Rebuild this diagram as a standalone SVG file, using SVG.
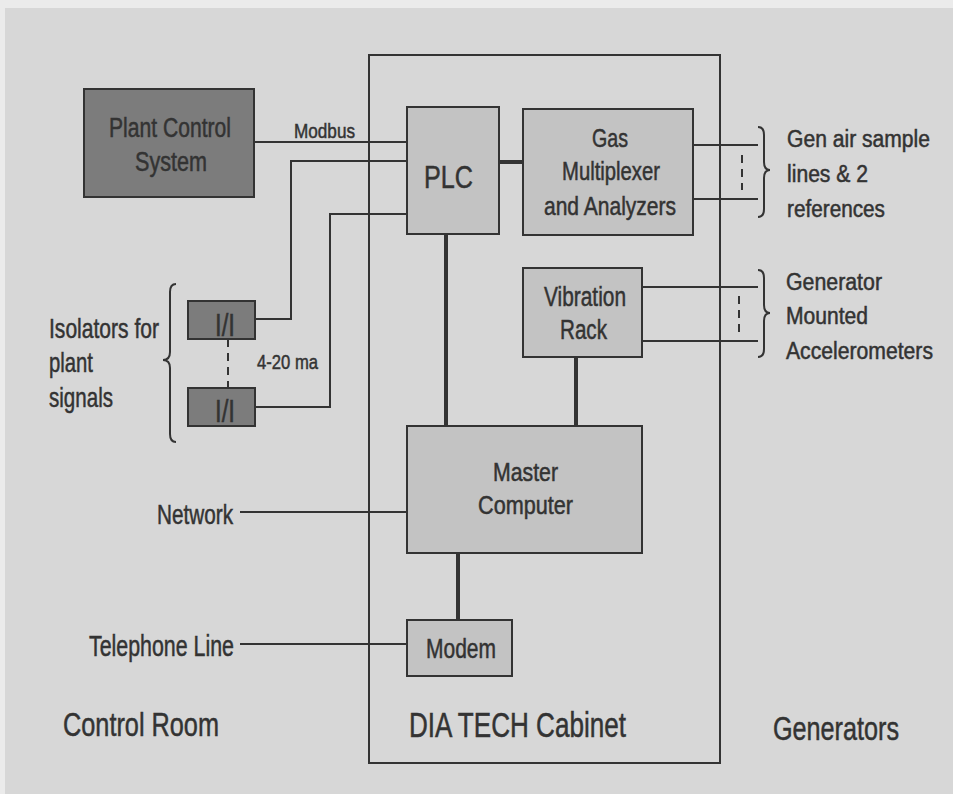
<svg xmlns="http://www.w3.org/2000/svg" width="953" height="794" viewBox="0 0 953 794">
<style>
text{font-family:"Liberation Sans",Arial,sans-serif;fill:#333;stroke:#333;stroke-width:0.5;}
.dark{fill:#7c7c7c;stroke:#333;stroke-width:2;}
.light{fill:#c3c3c3;stroke:#333;stroke-width:2;}
.ln{fill:none;stroke:#333;stroke-width:2;}
.thick{fill:none;stroke:#333;stroke-width:4;}
.dash{fill:none;stroke:#333;stroke-width:2;stroke-dasharray:8 6;}
.brace{fill:none;stroke:#333;stroke-width:2;}
</style>
<rect x="0" y="0" width="953" height="794" fill="#ebebeb"/>
<rect x="5" y="8" width="948" height="786" fill="#d7d7d7"/>
<g id="cabinet">
<rect x="369" y="55" width="351" height="708" fill="none" stroke="#333" stroke-width="2"/>
</g>
<g id="connectors">
<path class="ln" d="M254,142 H407"/>
<path class="ln" d="M255,319 H291 V161 H407"/>
<path class="ln" d="M255,407 H330 V214 H407"/>
<path class="dash" d="M228,339 V388"/>
<path class="thick" d="M499,162 H523"/>
<path class="thick" d="M446,234 V425"/>
<path class="thick" d="M576,357 V425"/>
<path class="thick" d="M458,553 V620"/>
<path class="ln" d="M240,512 H407"/>
<path class="ln" d="M240,644 H407"/>
<path class="ln" d="M693,145 H758"/>
<path class="ln" d="M693,199 H758"/>
<path class="dash" d="M742,155 V190"/>
<path class="ln" d="M642,287 H758"/>
<path class="ln" d="M642,341 H758"/>
<path class="dash" d="M739,296 V333"/>
<path class="brace" d="M758,127 Q764,127 764,135 L764,162 Q764,170 770,170 Q764,170 764,178 L764,209 Q764,217 758,217"/>
<path class="brace" d="M758,270 Q764,270 764,278 L764,305 Q764,313 770,313 Q764,313 764,321 L764,349 Q764,357 758,357"/>
<path class="brace" d="M176,284 Q170,284 170,292 L170,352 Q170,360 163,360 Q170,360 170,368 L170,434 Q170,442 176,442"/>
</g>
<g id="plant-control">
<rect class="dark" x="84" y="89" width="170" height="108"/>
<text x="109" y="137" font-size="27" textLength="122" lengthAdjust="spacingAndGlyphs">Plant Control</text>
<text x="135" y="171" font-size="27" textLength="72" lengthAdjust="spacingAndGlyphs">System</text>
</g>
<g id="modbus-label">
<text x="294" y="138" font-size="21" textLength="61" lengthAdjust="spacingAndGlyphs">Modbus</text>
</g>
<g id="plc">
<rect class="light" x="407" y="107" width="92" height="127"/>
<text x="424" y="188" font-size="32" textLength="49" lengthAdjust="spacingAndGlyphs">PLC</text>
</g>
<g id="gas">
<rect class="light" x="523" y="109" width="170" height="126"/>
<text x="592" y="147" font-size="25" textLength="36" lengthAdjust="spacingAndGlyphs">Gas</text>
<text x="562" y="180" font-size="25" textLength="98" lengthAdjust="spacingAndGlyphs">Multiplexer</text>
<text x="544" y="215" font-size="25" textLength="132" lengthAdjust="spacingAndGlyphs">and Analyzers</text>
</g>
<g id="gen-air">
<text x="787" y="147" font-size="23" textLength="143" lengthAdjust="spacingAndGlyphs">Gen air sample</text>
<text x="787" y="182" font-size="23" textLength="81" lengthAdjust="spacingAndGlyphs">lines &amp; 2</text>
<text x="787" y="217" font-size="23" textLength="98" lengthAdjust="spacingAndGlyphs">references</text>
</g>
<g id="vibration">
<rect class="light" x="523" y="268" width="119" height="89"/>
<text x="544" y="306" font-size="27" textLength="82" lengthAdjust="spacingAndGlyphs">Vibration</text>
<text x="560" y="339" font-size="27" textLength="47" lengthAdjust="spacingAndGlyphs">Rack</text>
</g>
<g id="accelerometers">
<text x="786" y="290" font-size="23" textLength="96" lengthAdjust="spacingAndGlyphs">Generator</text>
<text x="786" y="324" font-size="23" textLength="82" lengthAdjust="spacingAndGlyphs">Mounted</text>
<text x="786" y="359" font-size="23" textLength="147" lengthAdjust="spacingAndGlyphs">Accelerometers</text>
</g>
<g id="isolator-1">
<rect class="dark" x="188" y="301" width="67" height="38"/>
<text x="215" y="336" font-size="31" textLength="20" lengthAdjust="spacingAndGlyphs">I/I</text>
</g>
<g id="isolator-2">
<rect class="dark" x="188" y="388" width="67" height="38"/>
<text x="215" y="422" font-size="31" textLength="20" lengthAdjust="spacingAndGlyphs">I/I</text>
</g>
<g id="ma-label">
<text x="257" y="369" font-size="21" textLength="61" lengthAdjust="spacingAndGlyphs">4-20 ma</text>
</g>
<g id="isolators-label">
<text x="49" y="338" font-size="28" textLength="110" lengthAdjust="spacingAndGlyphs">Isolators for</text>
<text x="49" y="372" font-size="28" textLength="44" lengthAdjust="spacingAndGlyphs">plant</text>
<text x="49" y="407" font-size="28" textLength="64" lengthAdjust="spacingAndGlyphs">signals</text>
</g>
<g id="master">
<rect class="light" x="407" y="426" width="235" height="127"/>
<text x="493" y="481" font-size="25" textLength="65" lengthAdjust="spacingAndGlyphs">Master</text>
<text x="478" y="514" font-size="25" textLength="95" lengthAdjust="spacingAndGlyphs">Computer</text>
</g>
<g id="network">
<text x="157" y="524" font-size="28" textLength="76" lengthAdjust="spacingAndGlyphs">Network</text>
</g>
<g id="modem">
<rect class="light" x="407" y="620" width="105" height="56"/>
<text x="426" y="658" font-size="27" textLength="70" lengthAdjust="spacingAndGlyphs">Modem</text>
</g>
<g id="telephone">
<text x="89" y="656" font-size="29" textLength="145" lengthAdjust="spacingAndGlyphs">Telephone Line</text>
</g>
<g id="region-labels">
<text x="63" y="736" font-size="34" textLength="156" lengthAdjust="spacingAndGlyphs">Control Room</text>
<text x="409" y="737" font-size="35" textLength="217" lengthAdjust="spacingAndGlyphs">DIA TECH Cabinet</text>
<text x="773" y="740" font-size="34" textLength="126" lengthAdjust="spacingAndGlyphs">Generators</text>
</g>
</svg>
